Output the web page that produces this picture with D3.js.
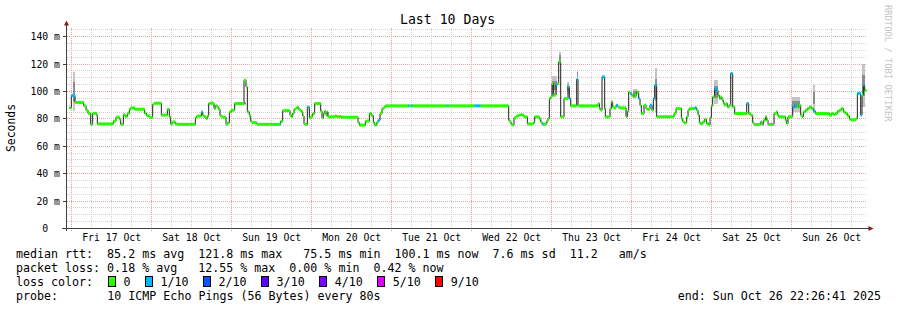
<!DOCTYPE html>
<html>
<head>
  <meta charset="utf-8">
  <script src="https://d3js.org/d3.v7.min.js"></script>
  <style>
    body { margin: 0; background: #fff; }
    svg text { font-family: "DejaVu Sans Mono", monospace; white-space: pre; fill: #000; }
  </style>
</head>
<body>
<script>
// median rtt samples: hours since Fri 17 Oct 00:00, value in ms, pings lost of 10
var medHours = [
  -0.7, -0.1, 1.0, 3.6, 4.3, 4.9, 5.7, 6.3, 7.5, 7.7,
  12.5, 13.3, 14.3, 14.7, 15.5, 16.1, 16.7, 17.3, 17.7, 18.9,
  21.9, 22.5, 23.5, 24.3, 24.7, 26.9, 28.7, 29.3, 29.7, 30.3,
  31.1, 31.7, 37.1, 37.5, 38.9, 39.3, 39.7, 40.3, 40.7, 41.1,
  41.5, 42.7, 43.1, 43.7, 44.1, 44.5, 45.1, 46.3, 46.7, 47.3,
  47.9, 48.9, 51.7, 52.3, 52.7, 53.3, 53.7, 54.1, 55.5, 55.7,
  62.7, 63.3, 65.5, 65.9, 66.3, 66.7, 67.3, 67.7, 68.1, 68.5,
  68.9, 69.3, 69.7, 70.1, 70.7, 71.3, 71.7, 72.3, 72.9, 74.7,
  75.1, 75.5, 75.9, 76.3, 76.7, 76.9, 78.9, 79.5, 80.3, 80.9,
  85.9, 86.3, 88.1, 89.3, 89.9, 90.5, 90.9, 91.5, 91.9, 92.5,
  93.1, 93.7, 94.2, 100.9, 101.3, 101.9, 102.3, 112.7, 113.1, 120.9,
  122.7, 131.1, 131.5, 131.9, 132.3, 132.7, 133.3, 134.1, 134.7, 135.1,
  135.7, 136.7, 138.5, 138.9, 140.3, 140.7, 141.1, 141.5, 142.1, 142.5,
  142.9, 143.3, 143.7, 144.1, 144.5, 145.3, 145.7, 146.1, 146.7, 147.7,
  148.9, 149.3, 149.7, 151.5, 151.9, 157.9, 158.3, 158.7, 159.1, 159.9,
  160.1, 161.5, 161.9, 162.3, 162.7, 163.3, 163.9, 164.3, 166.3, 166.7,
  167.1, 167.5, 167.9, 168.5, 168.9, 169.5, 170.1, 170.5, 170.9, 171.7,
  172.3, 172.7, 173.5, 174.1, 174.5, 174.9, 175.5, 180.7, 181.3, 182.9,
  183.3, 183.7, 184.5, 184.9, 185.3, 186.9, 187.5, 187.9, 188.3, 188.7,
  189.3, 189.9, 190.4, 191.1, 191.5, 191.9, 192.3, 192.9, 193.5, 193.9,
  194.3, 194.7, 195.1, 195.5, 195.9, 196.3, 196.7, 197.3, 197.7, 198.3,
  198.9, 202.5, 203.1, 203.7, 204.3, 204.7, 206.7, 207.1, 207.5, 208.1,
  208.5, 208.9, 210.7, 211.3, 211.7, 212.1, 214.1, 214.5, 214.9, 216.3,
  216.9, 217.5, 218.1, 218.7, 219.1, 219.5, 220.1, 220.7, 221.3, 221.9,
  222.5, 223.1, 227.3, 227.9, 228.5, 229.1, 229.7, 230.3, 230.9, 231.5,
  232.1, 232.7, 233.3, 233.7, 235.3, 235.7, 236.3, 236.7, 237.1, 237.5,
  237.9
];
var medValues = [
  88, 97, 92, 89.5, 86.3, 84, 76, 84, 82.7, 76.3,
  78.3, 81.2, 79.8, 76, 83, 81.7, 84, 87, 88, 87,
  84, 82.2, 81, 90.5, 91.4, 82.7, 87, 81.5, 76.3, 77.8,
  76.3, 76, 80.7, 82, 85, 82.7, 81.5, 80.2, 82, 91.2,
  91.4, 87.5, 89.5, 88.5, 87, 82.2, 81.2, 76, 77, 85,
  86.3, 91.2, 108.2, 103.3, 85.1, 82.2, 78.3, 77.3, 76.3, 76,
  78.3, 86, 82.7, 81.5, 83.9, 87, 88, 88.5, 87, 86.3,
  85.1, 82.2, 76.3, 76, 88.5, 80.7, 81.5, 83.9, 91.2, 85.6,
  80.7, 83.9, 85.6, 82.7, 85.1, 81.5, 82, 81.5, 81.7, 81.2,
  77.3, 75.4, 78.3, 83.9, 82.2, 77.3, 75.4, 77.3, 79, 83.9,
  87.5, 88.7, 89.5, 89.5, 89.5, 89.5, 89.5, 89.5, 89.5, 89.5,
  89.5, 79, 77.3, 76, 75.4, 80.7, 82, 82.7, 83.2, 82.7,
  81.5, 76.3, 77.3, 81.5, 80.2, 77.8, 76.3, 76, 76.3, 78.3,
  80.2, 94.8, 96, 105.8, 97.3, 105, 105.8, 121.6, 81.5, 94.8,
  103.3, 94.8, 89.5, 108.9, 89.5, 91.2, 87.5, 86.3, 110.6, 87.5,
  81.5, 87.5, 92.4, 88.7, 88, 89.9, 88.7, 88, 81.5, 85.6,
  99.7, 98.5, 97.3, 96, 97.3, 99.7, 94.8, 90, 83.9, 90,
  87.5, 87, 90, 86.3, 94.8, 104.5, 81.5, 83.9, 87.5, 80.2,
  78.3, 77.1, 81.5, 86.3, 87.5, 88, 86.3, 82.7, 77.1, 76.3,
  77.8, 79.8, 76.6, 75.4, 80.7, 89.5, 96, 102, 100.8, 97.3,
  94.8, 96, 93.6, 91.2, 89.9, 91.2, 88.7, 89.9, 113.1, 88.7,
  83.9, 91.2, 83.9, 82.7, 77.3, 75.9, 77.8, 75.9, 79, 81.5,
  79, 75.9, 83.9, 85.1, 82.7, 81.5, 79, 76.6, 81.5, 88.7,
  89.9, 88.7, 89.9, 82.7, 81.5, 85.1, 86.3, 87.5, 88.7, 87.5,
  85.6, 83.9, 82.7, 83.9, 83.2, 83.9, 85.6, 86.3, 87.5, 85.1,
  83.9, 82.2, 79.8, 79.3, 80.2, 98.5, 98.5, 82.7, 97.3, 104.5,
  100.8
];
var medLoss = [
  0, 1, 0, 0, 0, 0, 0, 0, 0, 0,
  0, 0, 0, 0, 0, 0, 0, 0, 0, 0,
  0, 0, 0, 0, 0, 0, 0, 0, 0, 0,
  0, 0, 0, 0, 1, 0, 0, 0, 0, 0,
  0, 0, 0, 0, 0, 0, 0, 0, 0, 0,
  0, 0, 0, 0, 0, 0, 0, 0, 0, 0,
  0, 0, 0, 0, 0, 0, 0, 0, 0, 0,
  0, 0, 0, 0, 1, 0, 0, 0, 0, 0,
  0, 0, 0, 0, 0, 0, 0, 0, 0, 0,
  0, 0, 0, 0, 0, 0, 0, 0, 1, 0,
  0, 0, 0, 1, 0, 1, 0, 1, 0, 1,
  0, 0, 0, 0, 0, 0, 0, 0, 0, 0,
  0, 0, 0, 0, 0, 0, 1, 0, 0, 0,
  0, 0, 0, 0, 0, 1, 0, 0, 0, 0,
  1, 1, 0, 1, 0, 0, 0, 0, 1, 0,
  0, 0, 0, 0, 0, 1, 0, 0, 0, 0,
  0, 1, 0, 0, 0, 0, 1, 0, 0, 0,
  0, 0, 1, 0, 1, 1, 0, 0, 0, 0,
  0, 0, 0, 0, 0, 1, 0, 0, 0, 0,
  0, 0, 0, 0, 0, 0, 0, 1, 1, 0,
  0, 0, 0, 0, 0, 0, 0, 0, 1, 0,
  0, 1, 0, 0, 0, 0, 0, 0, 0, 0,
  0, 0, 0, 0, 0, 0, 0, 0, 0, 1,
  1, 0, 0, 0, 0, 0, 0, 0, 0, 0,
  1, 0, 0, 0, 0, 0, 0, 0, 0, 0,
  0, 0, 0, 0, 0, 1, 1, 1, 0, 1,
  0
];

// smoke (spread of the pings) where it shows above the median
var smokeStart = [0.3, 51.7, 144.1, 146.1, 148.7, 151.5, 168.4, 174.9, 192.7, 216.1, 222.4, 237.1];
var smokeEnd   = [1.0, 52.3, 145.7, 146.7, 149.3, 151.9, 169.6, 175.5, 193.9, 218.5, 223.0, 238.1];
var smokeLo    = [86, 90, 98, 119, 98, 109, 95, 85, 91, 85, 86, 89];
var smokeHi    = [114, 92, 111, 129, 107, 115.5, 102, 117, 108, 96, 104.5, 120];

var dayLabels = ["Fri 17 Oct", "Sat 18 Oct", "Sun 19 Oct", "Mon 20 Oct", "Tue 21 Oct",
                 "Wed 22 Oct", "Thu 23 Oct", "Fri 24 Oct", "Sat 25 Oct", "Sun 26 Oct"];
var yTicks = [0, 20, 40, 60, 80, 100, 120, 140];
var yTickLabels = ["0  ", "20 m", "40 m", "60 m", "80 m", "100 m", "120 m", "140 m"];

var lossSteps = [0, 1, 2, 3, 4, 5, 9];
var lossNames = ["0", "1/10", "2/10", "3/10", "4/10", "5/10", "9/10"];
var lossColors = ["#26ff00", "#00b8ff", "#0059ff", "#5e00ff", "#7e00ff", "#dd00ff", "#ff0000"];

var rttLine = "median rtt:  85.2 ms avg  121.8 ms max   75.5 ms min  100.1 ms now  7.6 ms sd  11.2   am/s";
var lossLine = "packet loss: 0.18 % avg   12.55 % max  0.00 % min  0.42 % now";
var probeText = "10 ICMP Echo Pings (56 Bytes) every 80s";
var endText = "end: Sun Oct 26 22:26:41 2025";

function draw() {
  "use strict";

  var width = 897, height = 310;
  var t0 = Date.UTC(2025, 9, 17);
  var tEnd = new Date(Date.UTC(2025, 9, 26, 22, 26, 41));
  var tStart = new Date(tEnd.getTime() - 10 * 864e5);
  var toDate = function(h) { return new Date(t0 + h * 36e5); };

  var x = d3.scaleUtc().domain([tStart, tEnd]).range([66.5, 866.5]);
  var y = d3.scaleLinear().domain([0, 146.3]).range([228.5, 28]);
  var crisp = function(v) { return Math.round(v - 0.5) + 0.5; };

  var svg = d3.select("body").append("svg")
      .attr("width", width)
      .attr("height", height);

  svg.append("rect").attr("width", width).attr("height", height).attr("fill", "#fff");

  // grid
  var grid = svg.append("g").attr("shape-rendering", "crispEdges").attr("fill", "none");
  d3.range(5, 146, 5).forEach(function(v) {
    var major = v % 20 === 0;
    grid.append("line")
        .attr("x1", 67).attr("x2", 867)
        .attr("y1", crisp(y(v))).attr("y2", crisp(y(v)))
        .attr("stroke", major ? "#e6a3a3" : "#d2d2d2")
        .attr("stroke-dasharray", "1,1");
  });
  d3.utcHour.every(6).range(tStart, tEnd).forEach(function(d) {
    var major = d.getUTCHours() === 0;
    grid.append("line")
        .attr("x1", crisp(x(d))).attr("x2", crisp(x(d)))
        .attr("y1", 28).attr("y2", major ? 231 : 228)
        .attr("stroke", major ? "#e6a3a3" : "#d2d2d2")
        .attr("stroke-dasharray", "1,1");
  });

  // smoke
  var smoke = svg.append("g").attr("shape-rendering", "crispEdges");
  smokeStart.forEach(function(s, i) {
    var xa = x(toDate(s)), xb = x(toDate(smokeEnd[i]));
    var lo = smokeLo[i], hi = smokeHi[i], mid = (lo + hi) / 2, q = (hi - lo) / 4;
    smoke.append("rect")
        .attr("x", xa).attr("width", Math.max(1, xb - xa))
        .attr("y", y(hi)).attr("height", y(lo) - y(hi))
        .attr("fill", "#c4c4c4");
    smoke.append("rect")
        .attr("x", xa).attr("width", Math.max(1, xb - xa))
        .attr("y", y(mid + q)).attr("height", y(mid - q) - y(mid + q))
        .attr("fill", "#8c8c8c");
  });

  // median line (black steps), then loss coloured band over it
  var pts = medHours.map(function(h, i) { return [toDate(h), medValues[i]]; });
  pts.push([tEnd, medValues[medValues.length - 1]]);

  svg.append("path")
      .datum(pts)
      .attr("fill", "none")
      .attr("stroke", "#202020")
      .attr("stroke-width", 1)
      .attr("d", d3.line()
        .x(function(d) { return x(d[0]); })
        .y(function(d) { return y(d[1]); })
        .curve(d3.curveStepAfter));

  var lossColor = function(n) {
    var k = 0;
    lossSteps.forEach(function(s, j) { if (n >= s) k = j; });
    return lossColors[k];
  };

  svg.append("g").selectAll("rect")
      .data(pts.slice(0, -1))
      .enter().append("rect")
      .attr("x", function(d) { return x(d[0]); })
      .attr("width", function(d, i) { return x(pts[i + 1][0]) - x(d[0]); })
      .attr("y", function(d) { return y(d[1]) - 1.5; })
      .attr("height", 3)
      .attr("fill", function(d, i) { return lossColor(medLoss[i]); });

  // axes
  var axes = svg.append("g").attr("shape-rendering", "crispEdges");
  axes.append("line").attr("x1", 62).attr("x2", 869).attr("y1", 228.5).attr("y2", 228.5)
      .attr("stroke", "#404040");
  axes.append("line").attr("x1", 66.5).attr("x2", 66.5).attr("y1", 231).attr("y2", 24)
      .attr("stroke", "#404040");
  yTicks.forEach(function(v) {
    axes.append("line").attr("x1", 63).attr("x2", 66.5)
        .attr("y1", crisp(y(v))).attr("y2", crisp(y(v)))
        .attr("stroke", "#404040");
  });
  svg.append("path").attr("d", "M64,25.5L69,25.5L66.5,20.5Z").attr("fill", "#8b1a1a");
  svg.append("path").attr("d", "M868.5,226L868.5,231L873.5,228.5Z").attr("fill", "#8b1a1a");

  // tick labels
  svg.append("g").selectAll("text")
      .data(yTicks)
      .enter().append("text")
      .attr("x", 60)
      .attr("y", function(v) { return y(v) + 3.5; })
      .attr("text-anchor", "end")
      .style("font-size", "9.8px")
      .text(function(v, i) { return yTickLabels[i]; });

  svg.append("g").selectAll("text")
      .data(dayLabels)
      .enter().append("text")
      .attr("x", function(d, i) { return x(new Date(t0 + (i * 24 + 12) * 36e5)); })
      .attr("y", 241)
      .attr("text-anchor", "middle")
      .style("font-size", "9.8px")
      .text(function(d) { return d; });

  // titles
  svg.append("text")
      .attr("x", 447.6).attr("y", 24)
      .attr("text-anchor", "middle")
      .style("font-size", "13.2px")
      .text("Last 10 Days");

  svg.append("text")
      .attr("transform", "translate(14.5,128) rotate(-90)")
      .attr("text-anchor", "middle")
      .style("font-size", "11.4px")
      .text("Seconds");

  svg.append("text")
      .attr("transform", "translate(885,5) rotate(90)")
      .style("font-size", "8.8px")
      .style("fill", "#c4c4c4")
      .text("RRDTOOL / TOBI OETIKER");

  // legend
  var fs = "11.65px";
  svg.append("text").attr("x", 16).attr("y", 258).style("font-size", fs).text(rttLine);
  svg.append("text").attr("x", 16).attr("y", 272).style("font-size", fs).text(lossLine);
  svg.append("text").attr("x", 16).attr("y", 286).style("font-size", fs).text("loss color:");

  var bx = 108.5;
  lossNames.forEach(function(name, i) {
    svg.append("rect")
        .attr("x", bx).attr("y", 276.5)
        .attr("width", 7).attr("height", 10)
        .attr("fill", lossColors[i])
        .attr("stroke", "#000")
        .attr("shape-rendering", "crispEdges");
    var t = svg.append("text")
        .attr("x", bx + 15).attr("y", 286)
        .style("font-size", fs)
        .text(name);
    bx += 15 + t.node().getComputedTextLength() + 15;
  });

  svg.append("text").attr("x", 16).attr("y", 300).style("font-size", fs).text("probe:");
  svg.append("text").attr("x", 107.3).attr("y", 300).style("font-size", fs).text(probeText);
  svg.append("text").attr("x", 881).attr("y", 300).attr("text-anchor", "end")
      .style("font-size", fs).text(endText);
}

draw();
</script>
</body>
</html>
